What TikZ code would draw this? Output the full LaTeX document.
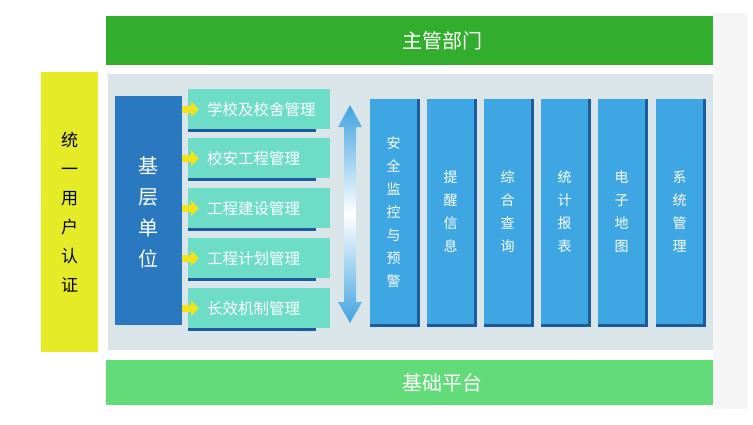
\documentclass[tikz,border=0pt]{standalone}
\usepackage{fontspec}
\setmainfont{Noto Sans CJK SC}
\usetikzlibrary{arrows.meta}
\definecolor{topgreen}{HTML}{33AD2E}
\definecolor{basegreen}{HTML}{62DB79}
\definecolor{authyellow}{HTML}{E5EC27}
\definecolor{unitblue}{HTML}{2A78C0}
\definecolor{modteal}{HTML}{6EDDC8}
\definecolor{panelgrey}{HTML}{D9E5E9}
\definecolor{colblue}{HTML}{3EA6E2}
\definecolor{coldark}{HTML}{1D5C9C}
\definecolor{arrowyellow}{HTML}{F0E31A}
\definecolor{arrowblue}{HTML}{3FA3E0}

\begin{document}
\begin{tikzpicture}[x=1pt, y=-1pt, line join=round,
	bar/.style={fill=#1, minimum width=607pt, inner sep=0pt, anchor=north west},
	bartext/.style={text=white, font=\fontsize{20}{20}\selectfont},
	vtext/.style={align=center, inner sep=0pt},
	modbox/.style={fill=modteal, minimum width=142pt, minimum height=40pt, text width=142pt,
		inner xsep=0pt, inner ysep=0pt, align=left, text=white, anchor=north west,
		font=\fontsize{15.5}{15.5}\selectfont},
	colbox/.style={fill=colblue, minimum width=47pt, minimum height=225pt, inner sep=0pt,
		anchor=north west, align=center, text=white, font=\fontsize{14}{23}\selectfont},
	yarrow/.style={draw=arrowyellow, line width=7pt, -{Triangle[length=8pt, width=15pt]}}]
	\useasboundingbox (0,0) rectangle (753,424);
	% light strip on the right
	\fill[black!4] (713,13) rectangle (747,409);
	
	% top and bottom bars
	\node[bar=topgreen, minimum height=49pt] (zg) at (106,16) {};
	\node[bartext] at (442,40.5) {主管部门};
	\node[bar=basegreen, minimum height=45pt] (jc) at (106,360) {};
	\node[bartext] at (442,382.5) {基础平台};
	
	% middle panel
	\fill[panelgrey] (108,74) rectangle (713,350);
	
	% unified login
	\node[fill=authyellow, minimum width=57pt, minimum height=280pt, inner sep=0pt, anchor=north west] (auth) at (41,72) {};
	\node[vtext, font=\fontsize{17}{29}\selectfont] at (auth.center) {统\\一\\用\\户\\认\\证};
	
	% grassroots unit
	\node[fill=unitblue, minimum width=67pt, minimum height=229pt, inner sep=0pt, anchor=north west] (unit) at (115,96) {};
	\node[vtext, text=white, font=\fontsize{20}{31}\selectfont] at ([yshift=-2pt]unit.center) {基\\层\\单\\位};
	
	% management modules
	\foreach \i/\y/\t in {1/89/学校及校舍管理, 2/138/校安工程管理, 3/188/工程建设管理, 4/238/工程计划管理, 5/288/长效机制管理} {
		\node[modbox] (m\i) at (188,\y) {\hspace*{19pt}\t};
		\fill[coldark] (m\i.south west) rectangle ++(128,3);
		\draw[yarrow] (unit.east |- m\i) -- ([xshift=11pt]m\i.west);
	}
	
	% double arrow
	\shade[top color=arrowblue, bottom color=arrowblue, middle color=white]
		(350,105) -- (362,127) -- (356,127) -- (356,302) -- (362,302) -- (350,323)
		-- (338,302) -- (344,302) -- (344,127) -- (338,127) -- cycle;
	
	% function columns
	\foreach \i/\x/\t in {1/370/{安\\全\\监\\控\\与\\预\\警}, 2/427/{提\\醒\\信\\息}, 3/484/{综\\合\\查\\询},
		4/541/{统\\计\\报\\表}, 5/598/{电\\子\\地\\图}, 6/656/{系\\统\\管\\理}} {
		\fill[coldark] (\x,99) rectangle ++(50,228);
		\node[colbox] (c\i) at (\x,99) {\t};
	}
\end{tikzpicture}
\end{document}
